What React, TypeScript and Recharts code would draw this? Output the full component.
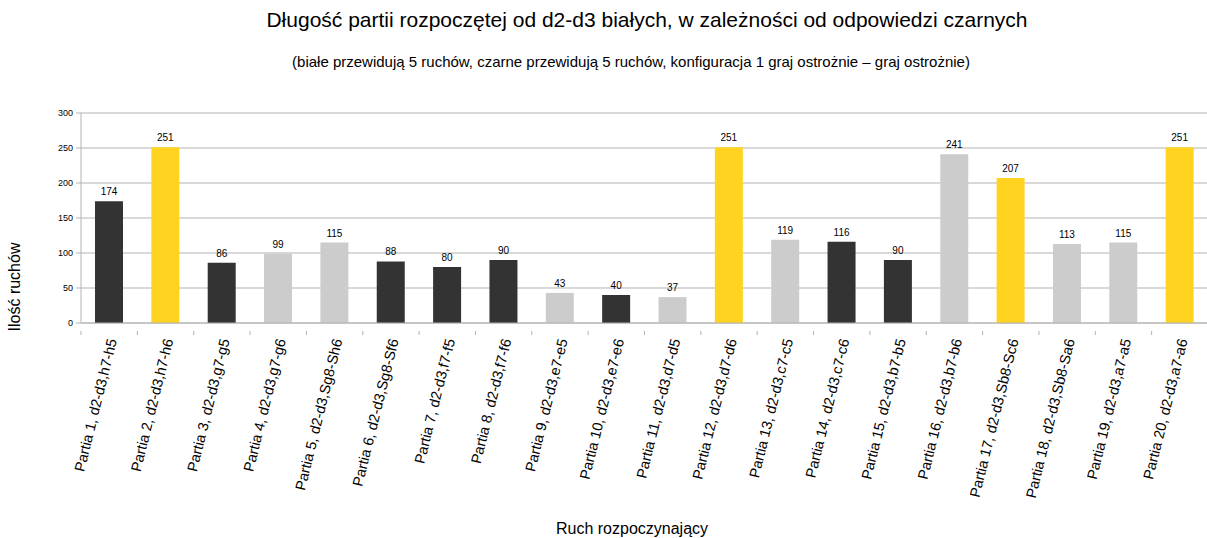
import { BarChart, Bar, XAxis, YAxis, CartesianGrid, Cell, LabelList } from 'recharts';

// categories (x axis)
const games = [
    'Partia 1, d2-d3,h7-h5',
    'Partia 2, d2-d3,h7-h6',
    'Partia 3, d2-d3,g7-g5',
    'Partia 4, d2-d3,g7-g6',
    'Partia 5, d2-d3,Sg8-Sh6',
    'Partia 6, d2-d3,Sg8-Sf6',
    'Partia 7, d2-d3,f7-f5',
    'Partia 8, d2-d3,f7-f6',
    'Partia 9, d2-d3,e7-e5',
    'Partia 10, d2-d3,e7-e6',
    'Partia 11, d2-d3,d7-d5',
    'Partia 12, d2-d3,d7-d6',
    'Partia 13, d2-d3,c7-c5',
    'Partia 14, d2-d3,c7-c6',
    'Partia 15, d2-d3,b7-b5',
    'Partia 16, d2-d3,b7-b6',
    'Partia 17, d2-d3,Sb8-Sc6',
    'Partia 18, d2-d3,Sb8-Sa6',
    'Partia 19, d2-d3,a7-a5',
    'Partia 20, d2-d3,a7-a6',
];

// game length (number of moves)
const moves = [174, 251, 86, 99, 115, 88, 80, 90, 43, 40, 37, 251, 119, 116, 90, 241, 207, 113, 115, 251];

// how the bar is coloured in the original: dark / yellow / light
const outcome = [
    'dark', 'yellow', 'dark', 'light', 'light', 'dark', 'dark', 'dark', 'light', 'dark',
    'light', 'yellow', 'light', 'dark', 'dark', 'light', 'yellow', 'light', 'light', 'yellow',
];

const yTicks = [0, 50, 100, 150, 200, 250, 300];

const colors: Record<string, string> = {
    dark: '#333333',
    yellow: '#ffd320',
    light: '#cccccc',
};

const W = 1207;
const H = 538;
const PLOT_LEFT = 81;
const PLOT_RIGHT = 1208;
const BAND = (PLOT_RIGHT - PLOT_LEFT) / games.length;

const data = games.map((name, i) => ({ name, value: moves[i], kind: outcome[i] }));

const font = '"Liberation Sans", Arial, sans-serif';

const XTick = (props: any) => {
    const { x, y, payload } = props;
    return (
        <g>
            <line x1={x - BAND / 2} y1={y} x2={x - BAND / 2} y2={y + 4} stroke="#b3b3b3" />
            <text
                x={x + 3}
                y={y + 8}
                textAnchor="end"
                dominantBaseline="central"
                transform={`rotate(-76, ${x + 3}, ${y + 8})`}
                fontSize={14.5}
                fontFamily={font}
                fill="#000"
            >
                {payload.value}
            </text>
        </g>
    );
};

export default function App() {
    return (
        <div style={{ position: 'absolute', left: 0, top: 0, width: W, height: H, background: '#fff', fontFamily: font }}>
            <div style={{ position: 'absolute', left: 0, width: 1294, top: 8, textAlign: 'center', fontSize: 21, color: '#000' }}>
                Długość partii rozpoczętej od d2-d3 białych, w zależności od odpowiedzi czarnych
            </div>
            <div style={{ position: 'absolute', left: 0, width: 1262, top: 53, textAlign: 'center', fontSize: 15, color: '#000' }}>
                (białe przewidują 5 ruchów, czarne przewidują 5 ruchów, konfiguracja 1 graj ostrożnie – graj ostrożnie)
            </div>
            <div
                style={{
                    position: 'absolute', left: 15, top: 287, fontSize: 16, color: '#000',
                    transform: 'translate(-50%, -50%) rotate(-90deg)', whiteSpace: 'nowrap',
                }}
            >
                Ilość ruchów
            </div>
            <div style={{ position: 'absolute', left: 0, width: 1264, top: 520, textAlign: 'center', fontSize: 16, color: '#000' }}>
                Ruch rozpoczynający
            </div>
            <div style={{ position: 'absolute', left: 0, top: 0 }}>
                <BarChart
                    width={W}
                    height={H}
                    data={data}
                    margin={{ top: 113, right: W - PLOT_RIGHT, left: PLOT_LEFT - 40, bottom: 35 }}
                >
                    <CartesianGrid vertical={false} stroke="#b3b3b3" />
                    <XAxis
                        dataKey="name"
                        interval={0}
                        height={180}
                        stroke="#b3b3b3"
                        tickLine={false}
                        tick={<XTick />}
                    />
                    <YAxis
                        width={40}
                        domain={[0, 300]}
                        ticks={yTicks}
                        stroke="#b3b3b3"
                        tickSize={5}
                        tickMargin={3}
                        tick={{ fontSize: 9, fill: '#000', fontFamily: font }}
                    />
                    <Bar dataKey="value" isAnimationActive={false} barSize={28}>
                        {data.map((d, i) => (
                            <Cell key={`cell-${i}`} fill={colors[d.kind]} />
                        ))}
                        <LabelList dataKey="value" position="top" offset={6} fontSize={10} fill="#000" fontFamily={font} />
                    </Bar>
                </BarChart>
            </div>
        </div>
    );
}
